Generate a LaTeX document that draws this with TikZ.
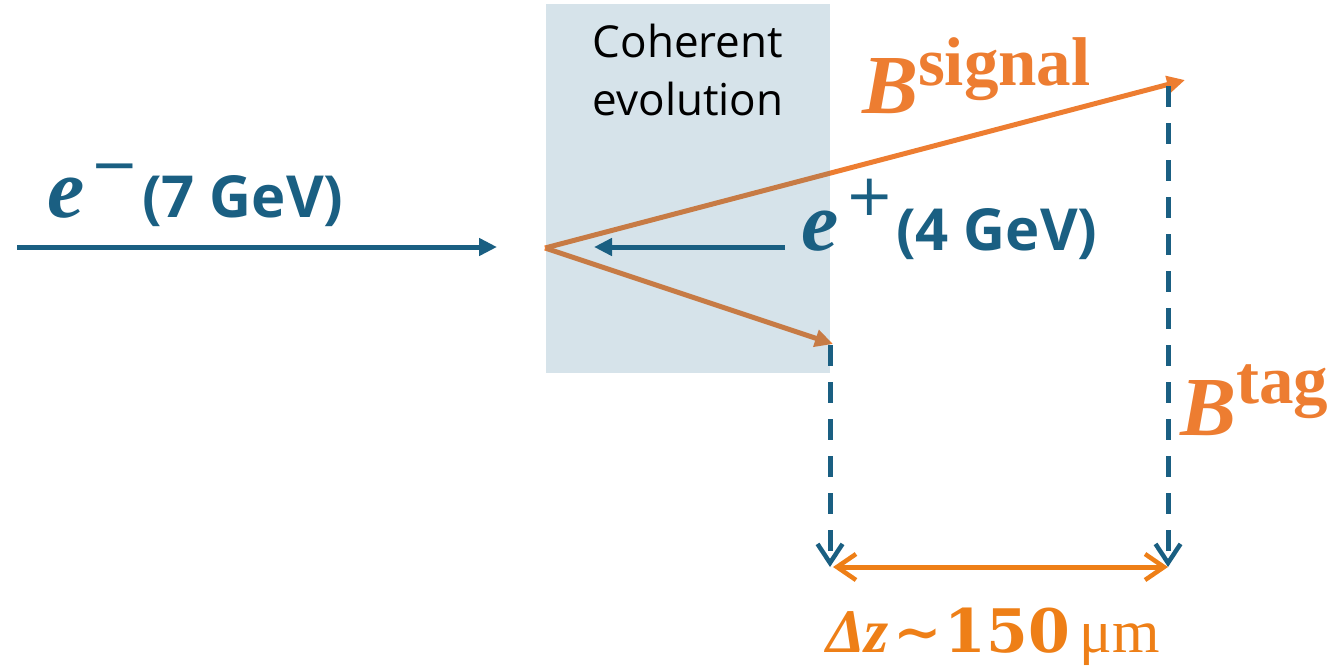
\documentclass[tikz,border=0pt]{standalone}
\usepackage{fontspec}
\usetikzlibrary{arrows.meta}
\newfontfamily\serfont{Liberation Serif}
\newfontfamily\dvsfont{DejaVu Serif}
\newfontfamily\dvsansfont{DejaVu Sans}
\newfontfamily\osfont{Open Sans}
\definecolor{cblue}{HTML}{1A5F82}
\definecolor{corange}{HTML}{ED7D31}
\definecolor{cdz}{HTML}{EE7F17}
\definecolor{cbox}{RGB}{50,115,150}
\tikzset{
  oline/.style={draw=corange, line width=5pt, -{Triangle[length=18pt,width=17pt]}},
  bline/.style={draw=cblue, line width=5pt, -{Triangle[length=18pt,width=17pt]}},
  dline/.style={draw=cblue, line width=5pt, dash pattern=on 21pt off 16pt,
    -{Straight Barb[length=19pt,width=25pt,line width=4.5pt]}},
  dzline/.style={draw=cdz, line width=5pt,
    {Straight Barb[length=19pt,width=26pt,line width=4.5pt]}-{Straight Barb[length=19pt,width=26pt,line width=4.5pt]}},
  txt/.style={inner sep=0pt, outer sep=0pt, anchor=base west},
  boxstyle/.style={fill=cbox, fill opacity=0.2, draw=none, inner sep=0pt, anchor=north west,
    minimum width=284pt, minimum height=369pt},
}
\newcommand{\mathE}{\serfont\bfseries\itshape\fontsize{84}{84}\selectfont}
\newcommand{\signF}{\dvsansfont\mdseries\upshape\fontsize{58}{58}\selectfont}
\newcommand{\gevF}{\osfont\bfseries\fontsize{58}{58}\selectfont}
\newcommand{\bigB}{\serfont\bfseries\itshape\fontsize{84}{84}\selectfont}
\newcommand{\supF}{\serfont\bfseries\upshape\fontsize{69}{69}\selectfont}
\begin{document}
\begin{tikzpicture}[x=1pt,y=-1pt]
\useasboundingbox (0,0) rectangle (1340,665);
% coordinates
\coordinate (eStart) at (17,247);
\coordinate (eEnd) at (497,247);
\coordinate (V) at (545,248);
\coordinate (Sig) at (1185,80);
\coordinate (Tag) at (833,344);
\coordinate (pStart) at (785,247);
\coordinate (pEnd) at (594,247);
\coordinate (dTagTop) at (830,345);
\coordinate (dTagBot) at (830,567);
\coordinate (dSigTop) at (1168,86);
\coordinate (dSigBot) at (1168,567);
\coordinate (dzL) at (833,567);
\coordinate (dzR) at (1168,567);
% B meson lines
\draw[oline] (V) -- (Sig);
\draw[oline] (V) -- (Tag);
% coherent evolution box
\node[boxstyle] (box) at (546,4) {};
\node[txt, anchor=base] (coh1) at (688,57) {\osfont\fontsize{44}{44}\selectfont Coherent};
\node[txt, anchor=base] (coh2) at (688,115) {\osfont\fontsize{44}{44}\selectfont evolution};
% beams
\draw[bline] (eStart) -- (eEnd);
\draw[bline] (pStart) -- (pEnd);
% dashed projections
\draw[dline] (dTagTop) -- (dTagBot);
\draw[dline] (dSigTop) -- (dSigBot);
\draw[dzline] (dzL) -- (dzR);
% labels
\node[txt, text=cblue] (em) at (47,217) {\mathE e\hspace{6pt}\raisebox{33pt}{\signF −}};
\node[txt, text=cblue] (emgev) at (142,217) {\gevF (7 GeV)};
\node[txt, text=cblue] (ep) at (801,250) {\mathE e\hspace{7pt}\raisebox{35pt}{\signF +}};
\node[txt, text=cblue] (epgev) at (896,250) {\gevF (4 GeV)};
\node[txt, text=corange] (bsig) at (862,113) {\bigB B\raisebox{28pt}{\supF signal}};
\node[txt, text=corange] (btag) at (1180,435) {\bigB B\raisebox{32pt}{\supF tag}};
\node[txt, text=cdz] (dz) at (826,652) {\serfont\bfseries\itshape\fontsize{62}{62}\selectfont Δz\hspace{4pt}{\dvsfont\bfseries\upshape\fontsize{58}{58}\selectfont ∼}\hspace{3pt}{\dvsfont\bfseries\upshape\fontsize{60}{60}\selectfont 150}\hspace{10pt}{\serfont\mdseries\upshape\fontsize{61}{61}\selectfont μm}};
\end{tikzpicture}
\end{document}
